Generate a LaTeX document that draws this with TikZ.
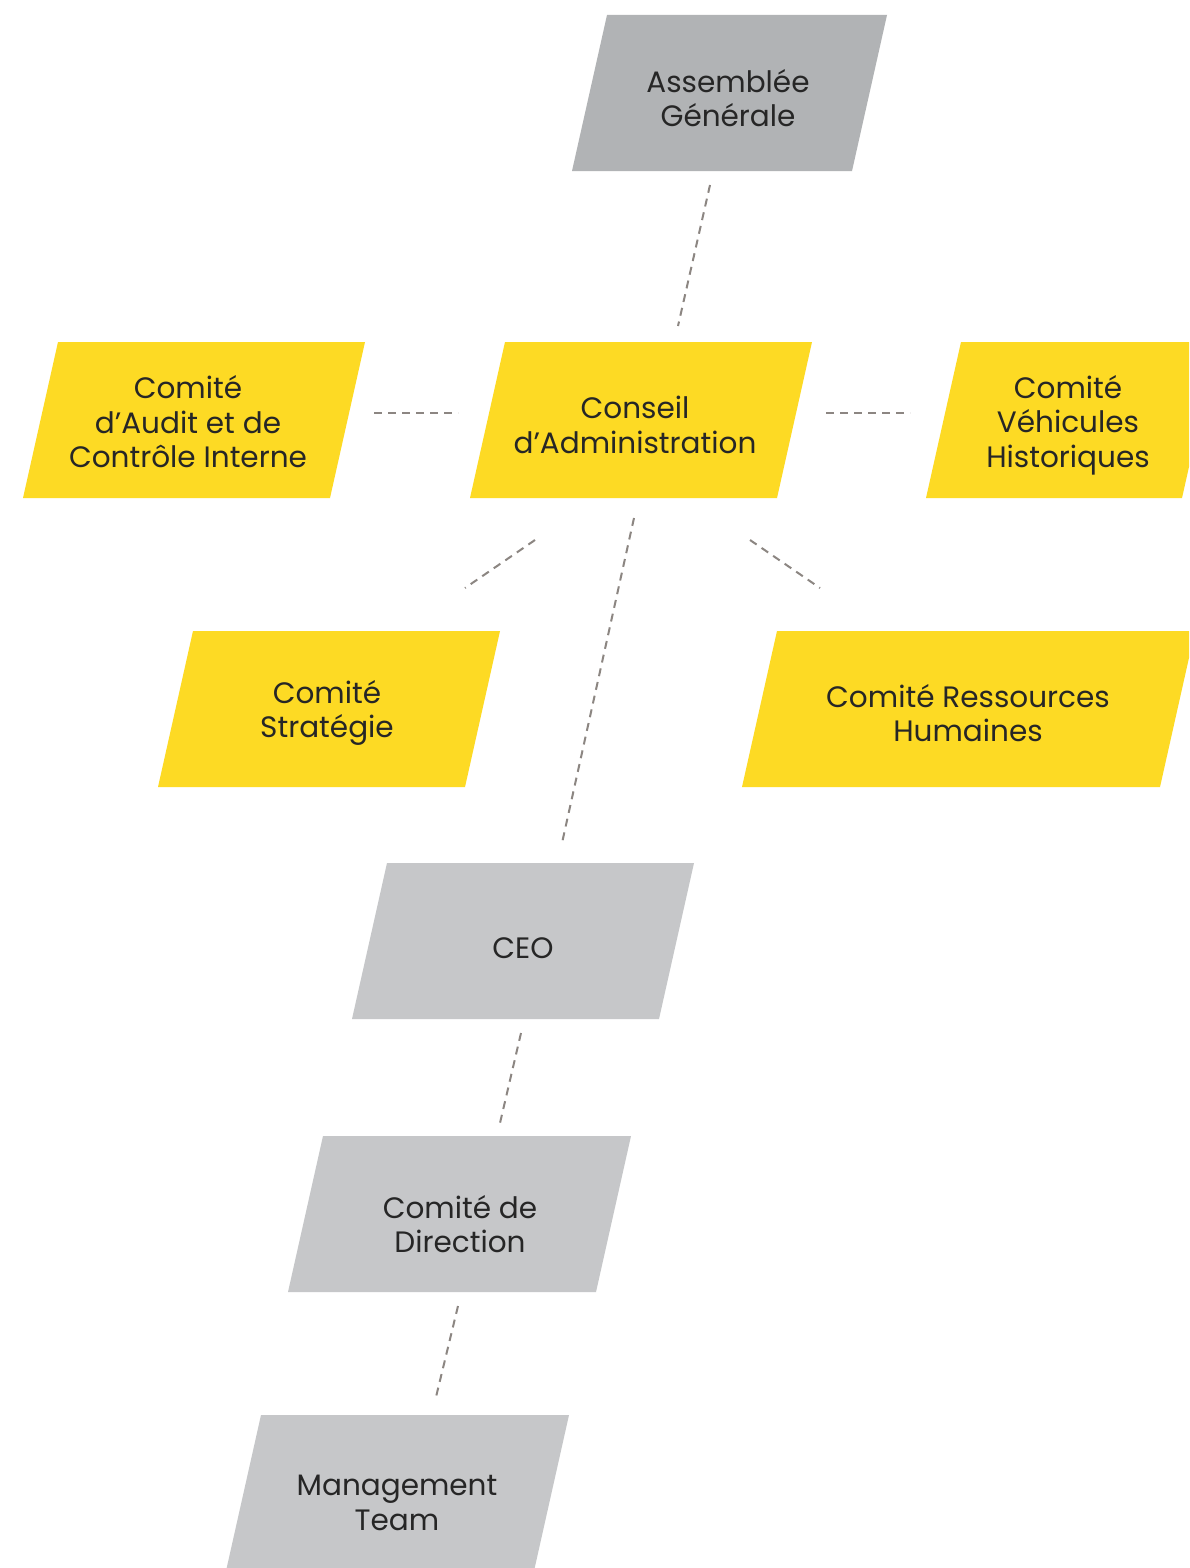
\documentclass[tikz,border=0pt]{standalone}
\usepackage{fontspec}
\setmainfont{Poppins}
\definecolor{ylw}{HTML}{FDDA24}
\definecolor{gdark}{HTML}{B1B3B5}
\definecolor{glight}{HTML}{C6C7C9}
\definecolor{txt}{HTML}{262626}
\definecolor{lnk}{HTML}{8C8682}
\newcommand\plgm[4]{\fill[#4] (#1,#2) -- ++(#3,0) -- ++(-35,156) -- ++(-#3,0) -- cycle;}
\begin{document}
\begin{tikzpicture}[x=1pt,y=-1pt,
 lbl/.style={align=center,text=txt,font=\fontsize{29.5}{34.5}\selectfont,inner sep=0pt},
 conn/.style={draw=lnk,line width=2pt,dash pattern=on 8pt off 6pt}]
\clip (0,0) rectangle (1189,1568);
\fill[white] (0,0) rectangle (1189,1568);
\plgm{607}{15}{280}{gdark}
\plgm{58}{342}{307}{ylw}
\plgm{505}{342}{307}{ylw}
\plgm{961}{342}{256}{ylw}
\plgm{193}{631}{307}{ylw}
\plgm{777}{631}{418}{ylw}
\plgm{387}{863}{307}{glight}
\plgm{323}{1136}{308}{glight}
\plgm{261}{1415}{308}{glight}
\node[lbl] (ag) at (728,98) {Assemblée\\Générale};
\node[lbl] (au) at (188,422) {Comité\\d’Audit et de\\Contrôle Interne};
\node[lbl] (ca) at (635,425) {Conseil\\d’Administration};
\node[lbl] (vh) at (1068,425) {Comité\\Véhicules\\Historiques};
\node[lbl] (st) at (327,713) {Comité\\Stratégie};
\node[lbl] (rh) at (968,713) {Comité Ressources\\Humaines};
\node[lbl] (ceo) at (523,948) {CEO};
\node[lbl] (dir) at (460,1224) {Comité de\\Direction};
\node[lbl] (mt) at (397,1503) {Management\\Team};
\draw[conn] ([shift={(-18,87)}]ag.center) -- ([shift={(43,-99)}]ca.center);
\draw[conn] ([shift={(186,-9)}]au.center) -- ([shift={(-177,-12)}]ca.center);
\draw[conn] ([shift={(191,-12)}]ca.center) -- ([shift={(-158,-12)}]vh.center);
\draw[conn] ([shift={(-100,115)}]ca.center) -- ([shift={(138,-125)}]st.center);
\draw[conn] ([shift={(115,115)}]ca.center) -- ([shift={(-148,-125)}]rh.center);
\draw[conn] ([shift={(-1,93)}]ca.center) -- ([shift={(39,-105)}]ceo.center);
\draw[conn] ([shift={(-2,85)}]ceo.center) -- ([shift={(40,-101)}]dir.center);
\draw[conn] ([shift={(-2,82)}]dir.center) -- ([shift={(39,-106)}]mt.center);
\end{tikzpicture}
\end{document}
